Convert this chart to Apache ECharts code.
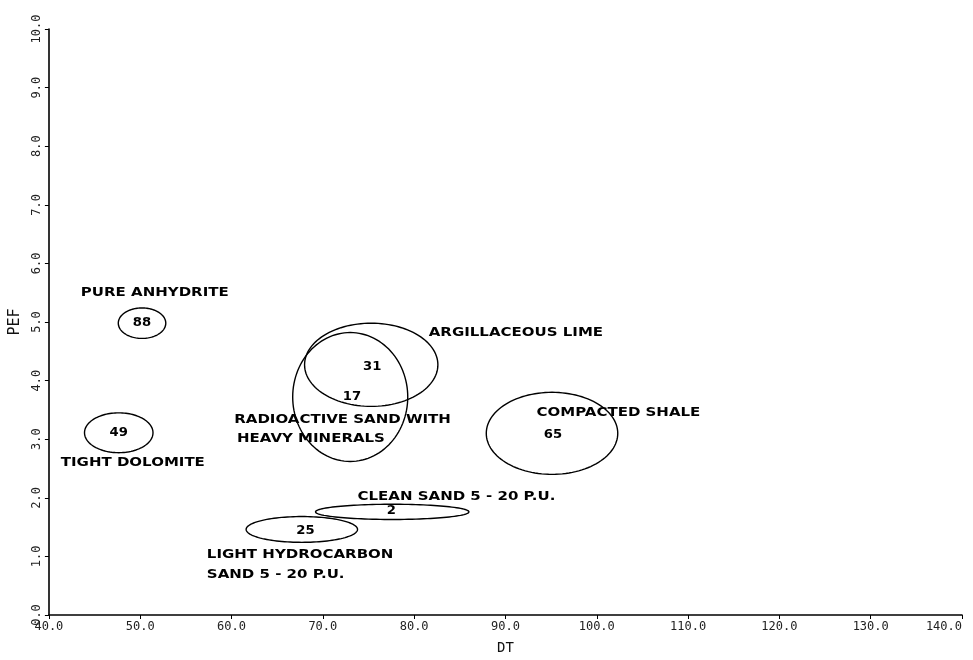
<!DOCTYPE html>
<html><head><meta charset="utf-8">
<script src="https://cdn.jsdelivr.net/npm/echarts@6/dist/echarts.min.js"></script>
<style>html,body{margin:0;padding:0;background:#fff}#c{width:973px;height:660px}</style>
</head><body><div id="c"></div>
<script>
// Ellipses (data units): lithology clusters on DT vs PEF
const ellipseIds = ['88', '49', '31', '17', '65', '2', '25'];
const ellipseCx = [50.2, 47.65, 75.3, 73.0, 95.1, 77.6, 67.7];
const ellipseCy = [4.98, 3.11, 4.27, 3.72, 3.10, 1.76, 1.46];
const ellipseRx = [2.6, 3.75, 7.3, 6.3, 7.2, 8.4, 6.1];
const ellipseRy = [0.26, 0.34, 0.71, 1.10, 0.70, 0.13, 0.22];
// Cluster number positions
const idX = [50.2, 47.65, 75.4, 73.2, 95.2, 77.5, 68.1];
const idY = [4.98, 3.11, 4.24, 3.73, 3.08, 1.77, 1.44];
// Text annotations (left anchor)
const labelTexts = ['PURE ANHYDRITE', 'TIGHT DOLOMITE', 'ARGILLACEOUS LIME', 'RADIOACTIVE SAND WITH',
  'HEAVY MINERALS', 'COMPACTED SHALE', 'CLEAN SAND 5 - 20 P.U.', 'LIGHT HYDROCARBON', 'SAND 5 - 20 P.U.'];
const labelX = [43.5, 41.3, 81.6, 60.3, 60.6, 93.4, 73.8, 57.3, 57.3];
const labelY = [5.49, 2.60, 4.81, 3.33, 3.01, 3.45, 2.02, 1.02, 0.68];
// Axes
const xMin = 40, xMax = 140, xStep = 10;
const yMin = 0, yMax = 10, yStep = 1;

const chart = echarts.init(document.getElementById('c'));
const ellData = ellipseIds.map((id, i) => [ellipseCx[i], ellipseCy[i], ellipseRx[i], ellipseRy[i]]);
const idData = ellipseIds.map((id, i) => [idX[i], idY[i], id]);
const lblData = labelTexts.map((t, i) => [labelX[i], labelY[i], t]);

chart.setOption({
  animation: false,
  backgroundColor: '#fff',
  grid: { left: 41, right: 11, top: 29, bottom: 44, containLabel: false },
  xAxis: {
    type: 'value', min: xMin, max: xMax, interval: xStep,
    name: 'DT', nameLocation: 'middle', nameGap: 26,
    nameTextStyle: { color: '#111', fontSize: 14, fontFamily: 'DejaVu Sans Mono' },
    axisLine: { lineStyle: { color: '#000', width: 1.6 } },
    axisTick: { show: true, length: 4, lineStyle: { color: '#000' } },
    splitLine: { show: false },
    axisLabel: { color: '#222', fontSize: 12, fontFamily: 'DejaVu Sans Mono', margin: 6,
      formatter: v => v.toFixed(1), alignMaxLabel: 'right' }
  },
  yAxis: {
    type: 'value', min: yMin, max: yMax, interval: yStep,
    name: 'PEF', nameLocation: 'middle', nameGap: 24,
    nameTextStyle: { color: '#111', fontSize: 15, fontFamily: 'DejaVu Sans Mono' },
    axisLine: { lineStyle: { color: '#000', width: 1.6 } },
    axisTick: { show: true, length: 4, lineStyle: { color: '#000' } },
    splitLine: { show: false },
    axisLabel: { color: '#222', fontSize: 12, fontFamily: 'DejaVu Sans Mono', rotate: 90, margin: 6,
      formatter: v => v.toFixed(1) }
  },
  series: [
    {
      type: 'custom', data: ellData, encode: { x: 0, y: 1 },
      renderItem: function (params, api) {
        const cx = api.value(0), cy = api.value(1), rx = api.value(2), ry = api.value(3);
        const pts = [];
        for (let k = 0; k < 120; k++) {
          const t = k / 120 * Math.PI * 2;
          pts.push(api.coord([cx + rx * Math.cos(t), cy + ry * Math.sin(t)]));
        }
        return { type: 'polygon', shape: { points: pts },
          style: { fill: 'none', stroke: '#000', lineWidth: 1.4 } };
      }
    },
    {
      type: 'custom', data: idData, encode: { x: 0, y: 1 },
      renderItem: function (params, api) {
        const p = api.coord([api.value(0), api.value(1)]);
        return { type: 'text', x: p[0], y: p[1], scaleX: 1.1,
          style: { text: idData[params.dataIndex][2], fill: '#000', x: 0, y: 0,
            font: 'bold 12px "DejaVu Sans", sans-serif', align: 'center', verticalAlign: 'middle' } };
      }
    },
    {
      type: 'custom', data: lblData, encode: { x: 0, y: 1 },
      renderItem: function (params, api) {
        const p = api.coord([api.value(0), api.value(1)]);
        return { type: 'text', x: p[0], y: p[1], scaleX: 1.25,
          style: { text: lblData[params.dataIndex][2], fill: '#000', x: 0, y: 0,
            font: 'bold 12px "DejaVu Sans", sans-serif', align: 'left', verticalAlign: 'middle' } };
      }
    }
  ]
});
</script></body></html>
